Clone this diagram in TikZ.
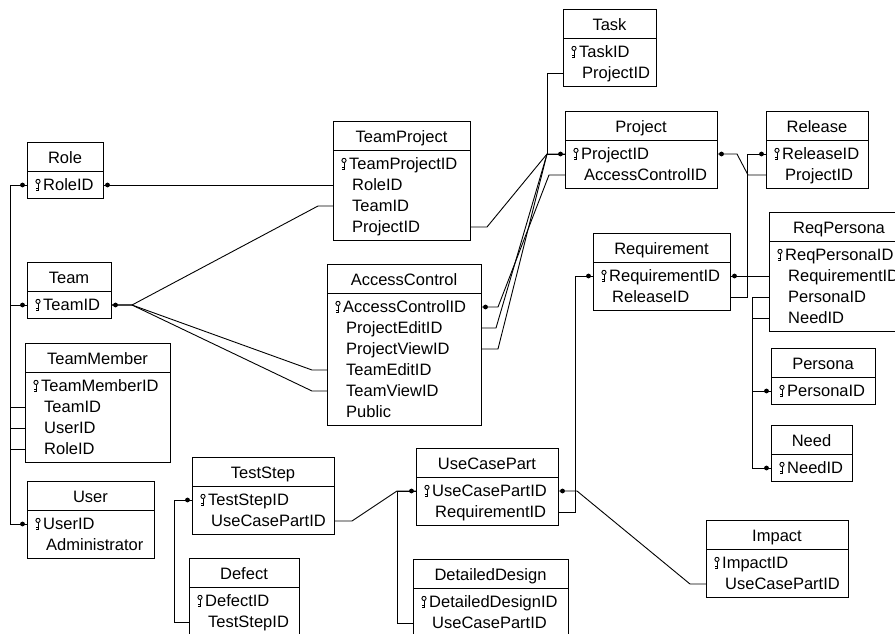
\documentclass[tikz,border=0pt]{standalone}
\usepackage{fontspec}
\setmainfont{Liberation Sans}
\usetikzlibrary{calc}

\tikzset{
  tbl/.style={draw=black, line width=1pt, fill=white},
  rel/.style={draw=black, line width=0.9pt},
  fieldtext/.style={anchor=base west, inner sep=0pt, font=\fontsize{16.5}{19}\selectfont},
  titletext/.style={anchor=base, inner sep=0pt, font=\fontsize{16.5}{19}\selectfont},
  keyglyph/.style={line width=0.9pt},
  pkdot/.style={fill=black},
}

% \ertable{name}{left}{top}{width}{title}{fields}; the first field is the key
\newcommand\ertable[6]{%
  \foreach \fld [count=\i] in {#6} {\xdef\ernrows{\i}}%
  \pgfmathsetmacro\erbottom{#3+29+21*\ernrows+6}%
  \draw[tbl] (#2,#3) rectangle ({#2+#4},\erbottom);
  \draw[tbl] (#2,#3+29) -- ({#2+#4},#3+29);
  \node[titletext] (#1) at ({#2+#4/2},{#3+21}) {#5};
  \foreach \fld [count=\i] in {#6} {%
    \pgfmathsetmacro\ery{#3+29+14+21*(\i-1)}%
    \ifnum\i=1
      \draw[keyglyph] ({#2+11},{\ery-3.6}) circle (2.1pt);
      \draw[keyglyph] ({#2+11},{\ery-1.5}) -- ({#2+11},{\ery+5.5}) -- ({#2+9},{\ery+5.5});
      \draw[keyglyph] ({#2+11},{\ery+3}) -- ({#2+9},{\ery+3});
      \node[fieldtext] (#1-\i) at ({#2+16},{\ery+5.8}) {\fld};
    \else
      \node[fieldtext] (#1-\i) at ({#2+19},{\ery+5.8}) {\fld};
    \fi
    \coordinate (#1-\i-w) at (#2,\ery);
    \coordinate (#1-\i-e) at ({#2+#4},\ery);
  }%
}

\begin{document}
\begin{tikzpicture}[x=1pt,y=-1pt]
\useasboundingbox (0,0) rectangle (895,633);
\fill[white] (0,0) rectangle (895,633);
\clip (0,0) rectangle (895,633);

% tables
\ertable{Task}{563}{9}{93}{Task}{TaskID,ProjectID}
\ertable{Project}{565}{111}{152}{Project}{ProjectID,AccessControlID}
\ertable{Release}{766}{111}{102}{Release}{ReleaseID,ProjectID}
\ertable{TeamProject}{333}{121}{137}{TeamProject}{TeamProjectID,RoleID,TeamID,ProjectID}
\ertable{Role}{27}{142}{76}{Role}{RoleID}
\ertable{Team}{27}{262}{84}{Team}{TeamID}
\ertable{AccessControl}{327}{264}{154}{AccessControl}{AccessControlID,ProjectEditID,ProjectViewID,TeamEditID,TeamViewID,Public}
\ertable{Requirement}{593}{233}{137}{Requirement}{RequirementID,ReleaseID}
\ertable{ReqPersona}{769}{212}{140}{ReqPersona}{ReqPersonaID,RequirementID,PersonaID,NeedID}
\ertable{TeamMember}{25}{343}{145}{TeamMember}{TeamMemberID,TeamID,UserID,RoleID}
\ertable{Persona}{771}{348}{104}{Persona}{PersonaID}
\ertable{Need}{771}{425}{81}{Need}{NeedID}
\ertable{UseCasePart}{416}{448}{142}{UseCasePart}{UseCasePartID,RequirementID}
\ertable{TestStep}{192}{457}{142}{TestStep}{TestStepID,UseCasePartID}
\ertable{User}{27}{481}{127}{User}{UserID,Administrator}
\ertable{Impact}{706}{520}{142}{Impact}{ImpactID,UseCasePartID}
\ertable{Defect}{189}{558}{110}{Defect}{DefectID,TestStepID}
\ertable{DetailedDesign}{413}{559}{155}{DetailedDesign}{DetailedDesignID,UseCasePartID}

% relationships (dot on the key side)
\draw[rel] (Role-1-e) -- (TeamProject-2-w);
\fill[pkdot] ([xshift=4.5pt]Role-1-e) circle (2.4pt);

\draw[rel] (Team-1-e) -- ++(21,0) -- ([xshift=-15pt]TeamProject-3-w) -- (TeamProject-3-w);
\draw[rel] (Team-1-e) -- ++(21,0) -- ([xshift=-15pt]AccessControl-4-w) -- (AccessControl-4-w);
\draw[rel] (Team-1-e) -- ++(21,0) -- ([xshift=-15pt]AccessControl-5-w) -- (AccessControl-5-w);
\fill[pkdot] ([xshift=4.5pt]Team-1-e) circle (2.4pt);

\draw[rel] (Role-1-w) -- ++(-17,0) |- (TeamMember-4-w);
\draw[rel] (Team-1-w) -- ++(-17,0) |- (TeamMember-2-w);
\draw[rel] (User-1-w) -- ++(-17,0) |- (TeamMember-3-w);
\fill[pkdot] ([xshift=-4.5pt]Role-1-w) circle (2.4pt);
\fill[pkdot] ([xshift=-4.5pt]Team-1-w) circle (2.4pt);
\fill[pkdot] ([xshift=-4.5pt]User-1-w) circle (2.4pt);

\coordinate (projhub) at ([xshift=-18pt]Project-1-w);
\draw[rel] (TeamProject-4-e) -- ++(17,0) -- (projhub) -- (Project-1-w);
\draw[rel] (Task-2-w) -- ++(-16,0) |- (Project-1-w);
\draw[rel] (AccessControl-2-e) -- ++(15,0) -- (projhub);
\draw[rel] (AccessControl-3-e) -- ++(17,0) -- (projhub);
\fill[pkdot] ([xshift=-4.5pt]Project-1-w) circle (2.4pt);

\draw[rel] (AccessControl-1-e) -- ++(17,0) -- ([xshift=-16pt]Project-2-w) -- (Project-2-w);
\fill[pkdot] ([xshift=4.5pt]AccessControl-1-e) circle (2.4pt);

\draw[rel] (Project-1-e) -- ++(20,0) -- ([xshift=-18pt]Release-2-w) -- (Release-2-w);
\fill[pkdot] ([xshift=4.5pt]Project-1-e) circle (2.4pt);

\draw[rel] (Release-1-w) -- ++(-19,0) |- (Requirement-2-e);
\fill[pkdot] ([xshift=-4.5pt]Release-1-w) circle (2.4pt);

\draw[rel] (Requirement-1-e) -- (ReqPersona-2-w);
\fill[pkdot] ([xshift=4.5pt]Requirement-1-e) circle (2.4pt);

\draw[rel] (Persona-1-w) -- ++(-19,0) |- (ReqPersona-3-w);
\draw[rel] (Need-1-w) -- ++(-19,0) |- (ReqPersona-4-w);
\fill[pkdot] ([xshift=-4.5pt]Persona-1-w) circle (2.4pt);
\fill[pkdot] ([xshift=-4.5pt]Need-1-w) circle (2.4pt);

\draw[rel] (Requirement-1-w) -- ++(-18,0) |- (UseCasePart-2-e);
\fill[pkdot] ([xshift=-4.5pt]Requirement-1-w) circle (2.4pt);

\draw[rel] (UseCasePart-1-e) -- ++(19,0) -- ([xshift=-16pt]Impact-2-w) -- (Impact-2-w);
\fill[pkdot] ([xshift=4.5pt]UseCasePart-1-e) circle (2.4pt);

\draw[rel] (UseCasePart-1-w) -- ++(-19,0) |- (DetailedDesign-2-w);
\draw[rel] (UseCasePart-1-w) -- ++(-19,0) -- ([xshift=18pt]TestStep-2-e) -- (TestStep-2-e);
\fill[pkdot] ([xshift=-4.5pt]UseCasePart-1-w) circle (2.4pt);

\draw[rel] (TestStep-1-w) -- ++(-18,0) |- (Defect-2-w);
\fill[pkdot] ([xshift=-4.5pt]TestStep-1-w) circle (2.4pt);
\end{tikzpicture}
\end{document}
